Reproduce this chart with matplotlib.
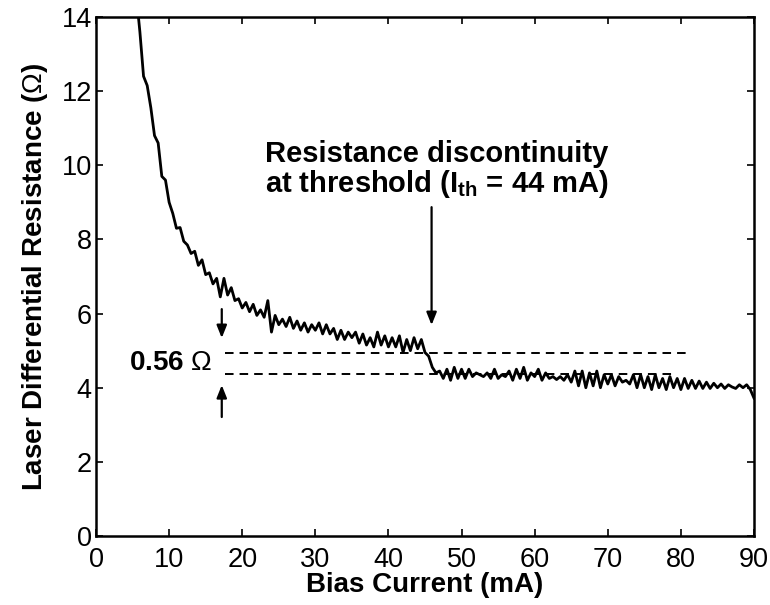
import numpy as np
import matplotlib
matplotlib.use("Agg")
import matplotlib.pyplot as plt

plt.rcParams['font.family'] = ['Liberation Sans', 'DejaVu Sans']
plt.rcParams['mathtext.fontset'] = 'custom'
plt.rcParams['mathtext.rm'] = 'Liberation Sans'
plt.rcParams['mathtext.bf'] = 'Liberation Sans:bold'
plt.rcParams['mathtext.default'] = 'bf'

# bias current sampled every 0.5 mA, from 5.5 to 90 mA
bias_ma = np.arange(5.5, 90.01, 0.5)

# differential resistance (ohm)
resistance = [
    14.6, 13.6, 12.4, 12.15, 11.55, 10.8, 10.6, 9.7, 9.6, 9.0,
    8.7, 8.3, 8.32, 7.95, 7.85, 7.62, 7.68, 7.3, 7.45, 7.05,
    7.1, 6.8, 6.95, 6.45, 6.95, 6.5, 6.7, 6.35, 6.4, 6.15,
    6.3, 6.05, 6.25, 5.95, 6.1, 5.9, 6.35, 5.5, 5.95, 5.7,
    5.85, 5.65, 5.9, 5.6, 5.8, 5.55, 5.75, 5.5, 5.7, 5.55,
    5.75, 5.45, 5.7, 5.45, 5.6, 5.3, 5.55, 5.3, 5.5, 5.35,
    5.5, 5.2, 5.45, 5.15, 5.35, 5.1, 5.5, 5.15, 5.4, 5.1,
    5.35, 5.1, 5.4, 4.95, 5.3, 5.0, 5.35, 5.05, 5.3, 4.95,
    4.85, 4.55, 4.4, 4.45, 4.25, 4.5, 4.2, 4.55, 4.25, 4.5,
    4.25, 4.5, 4.3, 4.4, 4.35, 4.3, 4.4, 4.25, 4.5, 4.25,
    4.35, 4.3, 4.45, 4.2, 4.5, 4.25, 4.55, 4.2, 4.4, 4.3,
    4.5, 4.2, 4.4, 4.25, 4.3, 4.22, 4.3, 4.2, 4.35, 4.15,
    4.45, 4.05, 4.45, 4.0, 4.4, 4.05, 4.45, 4.0, 4.35, 4.1,
    4.35, 4.05, 4.3, 4.15, 4.2, 4.1, 4.35, 4.0, 4.35, 4.0,
    4.3, 3.95, 4.35, 4.0, 4.25, 3.95, 4.3, 4.0, 4.25, 3.95,
    4.25, 3.98, 4.2, 3.98, 4.18, 3.98, 4.15, 3.98, 4.12, 4.0,
    4.1, 3.98, 4.08, 4.02, 3.98, 4.08, 4.0, 4.08, 3.95, 3.72,
]

# step levels either side of threshold
level_above = 4.94
level_below = 4.37
level_above_end = 81.0
level_below_end = 79.0
step_marker_x = 17.2
threshold_arrow_x = 45.9

fig = plt.figure(figsize=(7.7, 6.05), dpi=100)
ax = fig.add_axes([0.1247, 0.114, 0.8545, 0.858])

ax.plot(bias_ma, resistance, color='black', lw=2.0)

# dashed levels
ax.plot([17.6, level_above_end], [level_above, level_above], color='black',
        lw=1.4, dashes=(4.4, 3.1))
ax.plot([17.6, level_below_end], [level_below, level_below], color='black',
        lw=1.4, dashes=(4.4, 3.1))

arrow_kw = dict(arrowstyle='-|>,head_length=0.75,head_width=0.3',
                color='black', lw=1.6, shrinkA=0, shrinkB=0)
ax.annotate('', xy=(step_marker_x, 5.34), xytext=(step_marker_x, 6.12),
            arrowprops=arrow_kw)
ax.annotate('', xy=(step_marker_x, 4.07), xytext=(step_marker_x, 3.21),
            arrowprops=arrow_kw)
ax.annotate('', xy=(threshold_arrow_x, 5.69), xytext=(threshold_arrow_x, 8.87),
            arrowprops=arrow_kw)

ax.text(15.9, 4.66, r'0.56 $\mathrm{\Omega}$', ha='right', va='center',
        fontsize=20, fontweight='bold')
ax.text(23.1, 10.09, 'Resistance discontinuity', ha='left', va='baseline',
        fontsize=21, fontweight='bold')
ax.text(23.1, 9.28, r'at threshold (I$_{th}$ = 44 mA)', ha='left',
        va='baseline', fontsize=21, fontweight='bold')

ax.set_xlim(0, 90)
ax.set_ylim(0, 14)
ax.set_xticks(range(0, 91, 10))
ax.set_yticks(range(0, 15, 2))
ax.tick_params(direction='in', length=5, width=1.2, labelsize=19.5,
               top=True, right=True)
ax.tick_params(axis='x', pad=8)
ax.tick_params(axis='y', pad=3)
for s in ax.spines.values():
    s.set_linewidth(1.8)

ax.set_xlabel('Bias Current (mA)', fontsize=20, fontweight='bold', labelpad=-1)
ax.set_ylabel(r'Laser Differential Resistance ($\mathrm{\Omega}$)',
              fontsize=20, fontweight='bold', labelpad=8)

fig.savefig('out.png', dpi=100)
